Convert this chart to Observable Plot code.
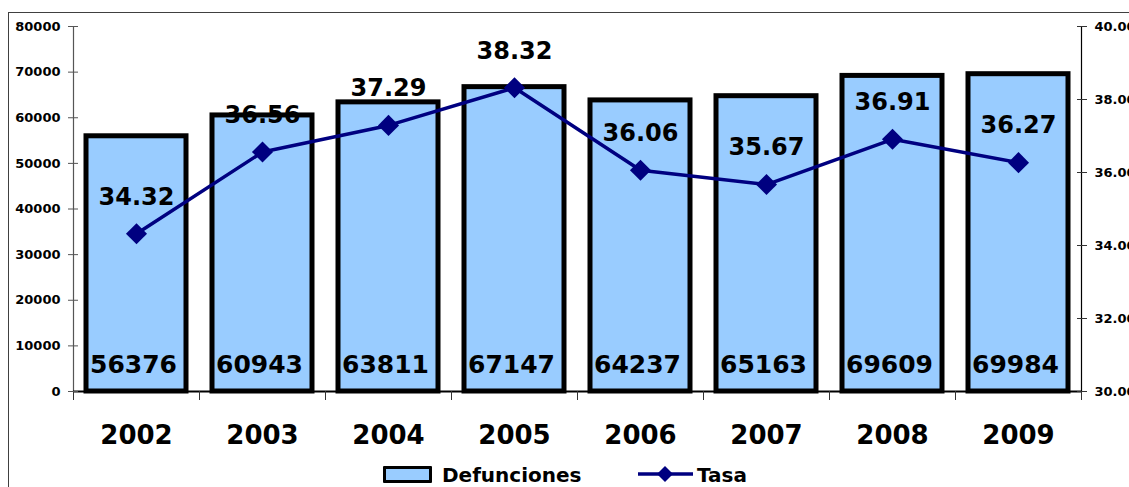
<!DOCTYPE html>
<html>
<head>
<meta charset="utf-8">
<script src="https://cdn.jsdelivr.net/npm/d3@7"></script>
<script src="https://cdn.jsdelivr.net/npm/@observablehq/plot@0.6"></script>
<style>
  html, body { margin: 0; padding: 0; background: white; overflow: hidden; }
  body { width: 1129px; height: 487px; position: relative; font-family: "DejaVu Sans", sans-serif; font-weight: bold; }
  #frame { position: absolute; left: 8px; top: 12px; width: 1200px; height: 600px; border-left: 1.5px solid #404040; border-top: 1.5px solid #404040; pointer-events: none; }
  #chart { position: absolute; left: 0; top: 0; }
  .lg { position: absolute; font-size: 20px; line-height: 20px; color: #000; white-space: nowrap; }
</style>
</head>
<body>
<div id="frame"></div>
<div id="chart"></div>
<div id="legend"></div>
<script>
const years = ["2002", "2003", "2004", "2005", "2006", "2007", "2008", "2009"];
const defunciones = [56376, 60943, 63811, 67147, 64237, 65163, 69609, 69984];
const tasa = [34.32, 36.56, 37.29, 38.32, 36.06, 35.67, 36.91, 36.27];
const leftTicks = [0, 10000, 20000, 30000, 40000, 50000, 60000, 70000, 80000];
const rightTicks = [30, 32, 34, 36, 38, 40];
const seriesNames = ["Defunciones", "Tasa"];

// right axis [30, 40] mapped onto left axis [0, 80000]
const toLeft = v => (v - 30) * 8000;
const fromLeft = d => 30 + d / 8000;

const data = years.map((year, i) => ({ i, year, def: defunciones[i], tasa: tasa[i], t: toLeft(tasa[i]) }));
const barFill = "#99CCFF";
const lineColor = "#000080";

const chart = Plot.plot({
  width: 1129,
  height: 455,
  marginLeft: 73,
  marginRight: 48,
  marginTop: 26,
  marginBottom: 64,
  x: { type: "linear", domain: [0, years.length], axis: null, label: null },
  y: { domain: [0, 80000], axis: null, label: null },
  style: { fontFamily: "DejaVu Sans", fontWeight: "bold", background: "transparent", color: "black" },
  marks: [
    Plot.rectY(data, { x1: "i", x2: d => d.i + 1, y: "def", fill: barFill, stroke: "black", strokeWidth: 5, insetLeft: 13, insetRight: 13, insetTop: 2 }),
    Plot.ruleX([0], { y1: 0, y2: 80000, stroke: "#555", strokeWidth: 1.2 }),
    Plot.ruleX([years.length], { y1: 0, y2: 80000, stroke: "black", strokeWidth: 1.2 }),
    Plot.ruleY([0], { stroke: "black", strokeWidth: 2 }),
    Plot.axisX({ ticks: d3.range(0, years.length + 1), tickSize: 9, tickFormat: () => "", stroke: "#333", label: null }),
    Plot.axisY({ anchor: "left", ticks: leftTicks, tickSize: 5, tickPadding: 8, tickFormat: d => String(d), fontSize: 13, stroke: "#555", label: null }),
    Plot.axisY({ anchor: "left", ticks: leftTicks, tickSize: -5, tickFormat: () => "", stroke: "#555", label: null }),
    Plot.axisY({ anchor: "right", ticks: rightTicks.map(toLeft), tickSize: 5, tickPadding: 8, tickFormat: d => fromLeft(d).toFixed(2), fontSize: 13, stroke: "#333", label: null }),
    Plot.axisY({ anchor: "right", ticks: rightTicks.map(toLeft), tickSize: -5, tickFormat: () => "", stroke: "#333", label: null }),
    Plot.text(data, { x: d => d.i + 0.5, y: 0, text: "year", dy: 44, fontSize: 26, fontWeight: "bold", fill: "black" }),
    Plot.text(data, { x: d => d.i + 0.5, y: 0, text: d => String(d.def), dy: -27, dx: -3, fontSize: 25, fontWeight: "bold", fill: "black" }),
    Plot.line(data, { x: d => d.i + 0.5, y: "t", stroke: lineColor, strokeWidth: 3.5 }),
    Plot.dot(data, { x: d => d.i + 0.5, y: "t", symbol: "diamond2", r: 9.5, fill: lineColor, stroke: "none" }),
    Plot.text(data, { x: d => d.i + 0.5, y: "t", text: d => d.tasa.toFixed(2), dy: -37, fontSize: 24, fontWeight: "bold", fill: "black" })
  ]
});
document.getElementById("chart").appendChild(chart);

// legend below the chart
const legend = document.getElementById("legend");
legend.innerHTML = `
  <div style="position:absolute;left:383px;top:466px;width:49px;height:17px;box-sizing:border-box;border:3px solid #000;background:${barFill};border-radius:1px;"></div>
  <div class="lg" style="left:442px;top:465px;">${seriesNames[0]}</div>
  <svg style="position:absolute;left:638px;top:464px;" width="56" height="20">
    <line x1="0" y1="10" x2="55" y2="10" stroke="${lineColor}" stroke-width="3.5"></line>
    <path d="M27,2 L35,10 L27,18 L19,10 Z" fill="${lineColor}"></path>
  </svg>
  <div class="lg" style="left:697px;top:465px;">${seriesNames[1]}</div>
`;
</script>
</body>
</html>
